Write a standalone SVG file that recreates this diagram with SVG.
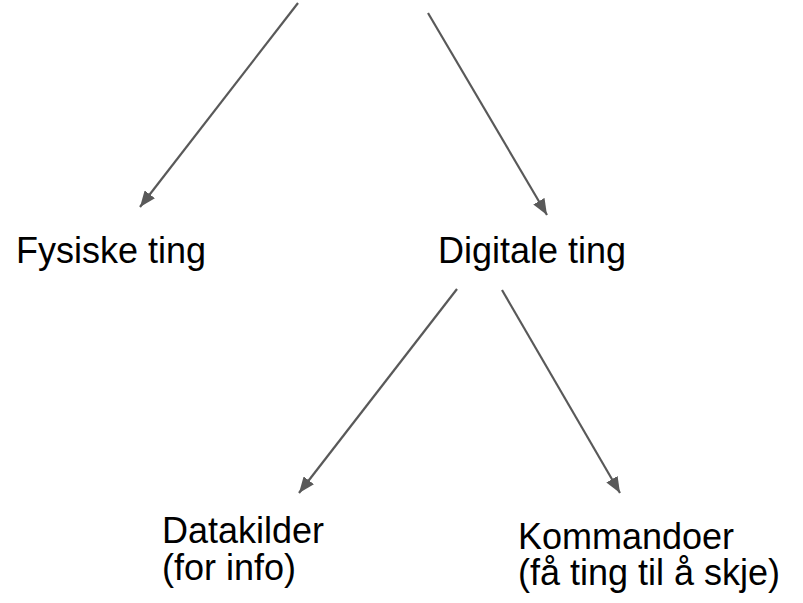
<svg xmlns="http://www.w3.org/2000/svg" width="803" height="603" viewBox="0 0 803 603">
  <style>
    .lbl { font-family: "Liberation Sans", Arial, sans-serif; font-size: 36px; fill: #000000; }
    .conn { stroke: #595959; stroke-width: 2.2; fill: none; marker-end: url(#arrow); }
  </style>
  <defs>
    <marker id="arrow" markerUnits="userSpaceOnUse" markerWidth="17" markerHeight="13" refX="16" refY="6.5" orient="auto">
      <path d="M0,0 L16,6.5 L0,13 z" fill="#595959"/>
    </marker>
  </defs>
  <rect width="803" height="603" fill="#ffffff"/>
  <g id="connectors">
    <line class="conn" x1="298" y1="3" x2="140" y2="207"/>
    <line class="conn" x1="428" y1="13" x2="547" y2="215"/>
    <line class="conn" x1="457" y1="289" x2="299" y2="493"/>
    <line class="conn" x1="502" y1="290" x2="620" y2="493"/>
  </g>
  <g id="fysiske">
    <text class="lbl" x="16" y="263">Fysiske ting</text>
  </g>
  <g id="digitale">
    <text class="lbl" x="438" y="263">Digitale ting</text>
  </g>
  <g id="datakilder">
    <text class="lbl" x="162" y="543">Datakilder<tspan x="162" y="580">(for info)</tspan></text>
  </g>
  <g id="kommandoer">
    <text class="lbl" x="518" y="549">Kommandoer<tspan x="518" y="585">(få ting til å skje)</tspan></text>
  </g>
</svg>
